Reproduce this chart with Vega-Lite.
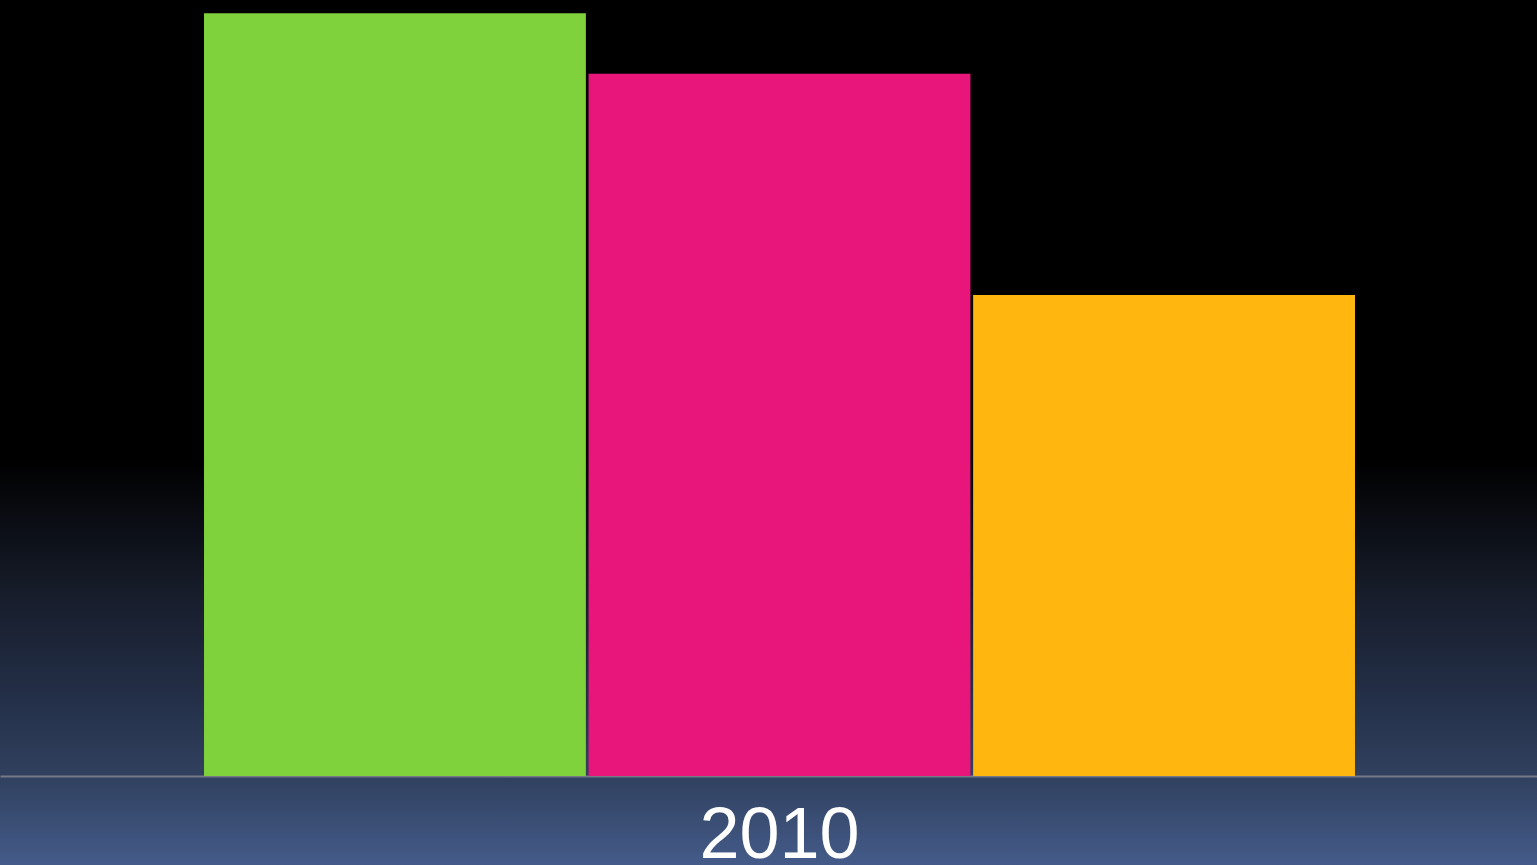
{
  "$schema": "https://vega.github.io/schema/vega-lite/v6.json",
  "width": 1537,
  "height": 865,
  "padding": 0,
  "autosize": {"type": "none"},
  "background": "#000000",
  "config": {
    "view": {
      "stroke": null,
      "fill": {
        "gradient": "linear",
        "x1": 0, "y1": 0, "x2": 0, "y2": 1,
        "stops": [
          {"offset": 0, "color": "#000000"},
          {"offset": 0.53, "color": "#000000"},
          {"offset": 0.69, "color": "#171d2b"},
          {"offset": 0.81, "color": "#243049"},
          {"offset": 0.9, "color": "#31415f"},
          {"offset": 1, "color": "#445b8a"}
        ]
      }
    }
  },
  "data": {
    "values": [
      {"year": "2010", "series": "A", "value": 98.3},
      {"year": "2010", "series": "B", "value": 90.5},
      {"year": "2010", "series": "C", "value": 62.0}
    ]
  },
  "mark": {"type": "bar", "cornerRadius": 0},
  "encoding": {
    "x": {
      "field": "year",
      "type": "nominal",
      "scale": {"paddingInner": 0, "paddingOuter": 0.1677, "align": 0.5285},
      "axis": {
        "title": null,
        "orient": "bottom",
        "offset": -89,
        "ticks": false,
        "labelAngle": 0,
        "labelFont": "Liberation Sans",
        "labelFontSize": 72,
        "labelColor": "#ffffff",
        "labelBaseline": "alphabetic",
        "labelPadding": 81,
        "domainColor": "#747a88",
        "domainWidth": 2,
        "grid": false
      }
    },
    "xOffset": {
      "field": "series",
      "type": "nominal",
      "scale": {"paddingInner": 0.007, "paddingOuter": 0}
    },
    "y": {
      "field": "value",
      "type": "quantitative",
      "scale": {"domain": [-11.469, 100], "nice": false, "zero": false},
      "axis": null
    },
    "color": {
      "field": "series",
      "type": "nominal",
      "scale": {"domain": ["A", "B", "C"], "range": ["#80d23c", "#e8167a", "#ffb60f"]},
      "legend": null
    }
  }
}
